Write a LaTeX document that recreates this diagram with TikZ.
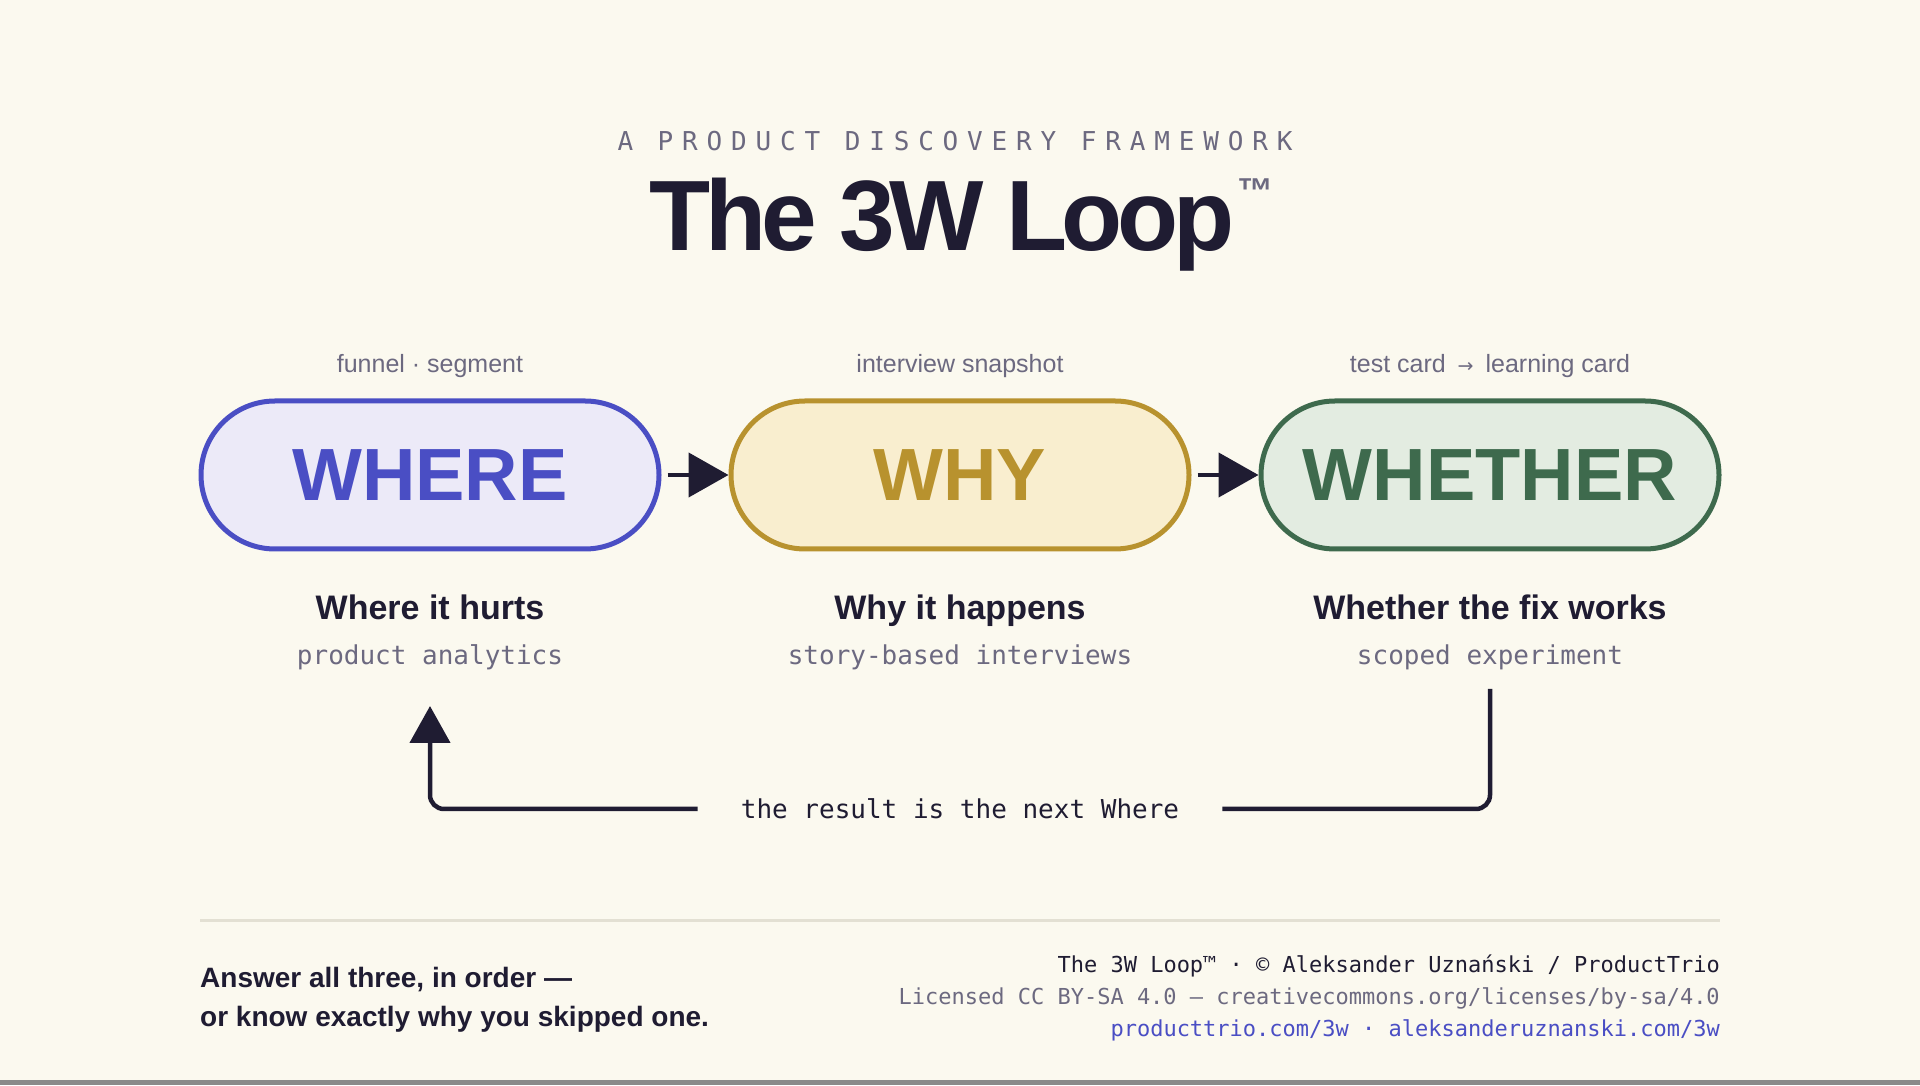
\documentclass[tikz,border=0pt]{standalone}
\usepackage{fontspec}
\setmainfont{Liberation Sans}
\setmonofont{DejaVu Sans Mono}
\newfontfamily\arrowfont{DejaVu Sans}
\newfontfamily\titlefont[LetterSpace=-5.4]{Liberation Sans}
\newfontfamily\kickerfont[LetterSpace=34]{DejaVu Sans Mono}
\usetikzlibrary{arrows.meta,positioning}
\definecolor{paper}{RGB}{251,249,239}
\definecolor{ink}{RGB}{31,28,50}
\definecolor{slate}{RGB}{108,105,128}
\definecolor{indigo}{RGB}{74,78,196}
\definecolor{indigowash}{RGB}{236,234,248}
\definecolor{ochre}{RGB}{184,146,46}
\definecolor{ochrewash}{RGB}{249,238,207}
\definecolor{pine}{RGB}{62,106,77}
\definecolor{pinewash}{RGB}{227,236,225}
\definecolor{rulegray}{RGB}{227,224,211}
\definecolor{bargray}{RGB}{138,138,138}

\begin{document}
\begin{tikzpicture}[x=1pt,y=1pt,
    pill/.style={rectangle,rounded corners=74pt,minimum width=458pt,minimum height=148pt,
      line width=5pt,inner sep=0pt,font=\fontsize{74}{74}\selectfont\bfseries},
    cue/.style={font=\fontsize{25}{25}\selectfont,text=slate,inner sep=0pt,anchor=base},
    headline/.style={font=\fontsize{34}{34}\selectfont\bfseries,text=ink,inner sep=0pt,anchor=base},
    method/.style={font=\fontsize{26}{26}\selectfont\ttfamily,text=slate,inner sep=0pt,anchor=base},
    flow/.style={ink,line width=4.5pt,-{Triangle[length=40pt,width=44pt]}},
    loopline/.style={ink,line width=4.5pt,rounded corners=14pt}]
  \fill[paper] (0,0) rectangle (1920,1085);
  \fill[bargray] (0,0) rectangle (1920,5);
  \useasboundingbox (0,0) rectangle (1920,1085);

  % heading
  \node[font=\kickerfont\fontsize{26}{26}\selectfont,text=slate,inner sep=0pt,anchor=base] (kicker) at (955,934) {A PRODUCT DISCOVERY FRAMEWORK};
  \node[font=\titlefont\fontsize{100}{100}\selectfont\bfseries,text=ink,inner sep=0pt,anchor=base] (title) at (942,834) {The 3W Loop};
  \node[font=\fontsize{36}{36}\selectfont\bfseries,text=slate,inner sep=0pt,anchor=north west] (tm) at ([xshift=3pt]title.north east) {™};

  % the three W's
  \node[pill,draw=ochre,fill=ochrewash,text=ochre] (why) at (960,610) {WHY};
  \node[pill,draw=indigo,fill=indigowash,text=indigo,left=67pt of why] (where) {WHERE};
  \node[pill,draw=pine,fill=pinewash,text=pine,right=67pt of why] (whether) {WHETHER};
  \draw[flow,shorten <=6pt] (where) -- (why);
  \draw[flow,shorten <=6pt] (why) -- (whether);

  \foreach \n/\top/\head/\sub in {
      where/{funnel · segment}/{Where it hurts}/{product analytics},
      why/{interview snapshot}/{Why it happens}/{story-based interviews},
      whether/{test card\hspace{5pt} {\arrowfont\fontsize{19}{19}\selectfont→}\hspace{5pt} learning card}/{Whether the fix works}/{scoped experiment}}{
    \node[cue] (\n-top) at ([yshift=102.5pt]\n.center) {\top};
    \node[headline] (\n-head) at ([yshift=-145pt]\n.center) {\head};
    \node[method] (\n-sub) at ([yshift=-189.5pt]\n.center) {\sub};
  }

  % back round the loop
  \coordinate (loop-start) at ([yshift=-214pt]whether.center);
  \coordinate (loop-end) at ([yshift=-231pt]where.center);
  \node[font=\fontsize{26}{26}\selectfont\ttfamily,text=ink,inner ysep=0pt,inner xsep=43pt] (loop-note) at (960,276) {the result is the next Where};
  \draw[loopline] (loop-start) |- (loop-note.east);
  \draw[loopline,-{Triangle[length=37pt,width=40pt]}] (loop-note.west) -| (loop-end);

  % footer
  \draw[rulegray,line width=3pt] (200,164.5) -- (1720,164.5);
  \node[font=\fontsize{28}{39}\selectfont\bfseries,text=ink,align=left,inner sep=0pt,anchor=west] (motto) at (200,85)
    {Answer all three, in order —\\or know exactly why you skipped one.};
  \node[font=\fontsize{22}{32}\selectfont\ttfamily,align=right,inner sep=0pt,anchor=east] (credits) at (1720,87)
    {\textcolor{ink}{The 3W Loop™ · © Aleksander Uznański / ProductTrio}\\
     \textcolor{slate}{Licensed CC BY-SA 4.0 — creativecommons.org/licenses/by-sa/4.0}\\
     \textcolor{indigo}{producttrio.com/3w · aleksanderuznanski.com/3w}};
\end{tikzpicture}
\end{document}
